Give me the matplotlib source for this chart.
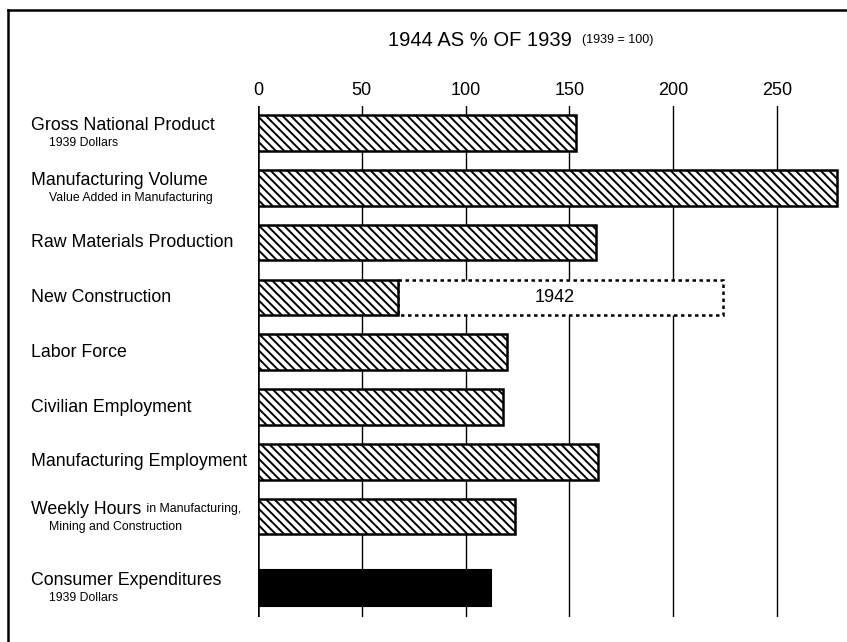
import matplotlib
matplotlib.use("Agg")
import matplotlib.pyplot as plt
from matplotlib.lines import Line2D

plt.rcParams['font.family'] = ['Liberation Sans', 'DejaVu Sans']
plt.rcParams['hatch.linewidth'] = 1.4

# ---- data (1944 as % of 1939) ----
labels = ["Gross National Product", "Manufacturing Volume", "Raw Materials Production",
          "New Construction", "Labor Force", "Civilian Employment",
          "Manufacturing Employment", "Weekly Hours", "Consumer Expenditures"]
sublabels = ["1939 Dollars", "Value Added in Manufacturing", "", "", "", "", "",
             "Mining and Construction", "1939 Dollars"]
values_1944 = [153, 279, 163, 67.5, 120, 118, 164, 124, 112]
construction_1942 = 224
ticks = [0, 50, 100, 150, 200, 250]

# row positions (consumer row set a bit lower)
rows = [0, 1, 2, 3, 4, 5, 6, 7, 8.3]

W, H = 847, 642
fig = plt.figure(figsize=(W / 100, H / 100), dpi=100)
ax = fig.add_axes([258 / W, 1 - 617 / H, (W - 258) / W, (617 - 106) / H])

px_per_unit = 2.076
ax.set_xlim(0, (W - 258) / px_per_unit)
ax.set_ylim(8.83, -0.49)

# grid lines behind bars
for t in ticks:
    ax.axvline(t, color='black', lw=1.8 if t == 0 else 1.0, zorder=0)

bh = 0.65
for i, (y, v) in enumerate(zip(rows, values_1944)):
    if i == len(values_1944) - 1:
        ax.barh(y, v, height=bh, color='black', edgecolor='black', lw=1.5, zorder=2)
    else:
        ax.barh(y, v, height=bh, facecolor='white', edgecolor='black',
                hatch='\\\\\\\\', lw=1.8, zorder=2)

# 1942 dotted extension for New Construction
ci = labels.index("New Construction")
ax.barh(rows[ci], construction_1942 - values_1944[ci], left=values_1944[ci], height=bh,
        facecolor='white', edgecolor='black', lw=1.8, linestyle=(0, (1.4, 1.4)), zorder=1.5)
ax.text((values_1944[ci] + construction_1942) / 2 - 3, rows[ci], "1942", ha='center',
        va='center', fontsize=13, zorder=3)

ax.xaxis.tick_top()
ax.set_xticks(ticks)
ax.set_xticklabels([str(t) for t in ticks], fontsize=13)
ax.tick_params(axis='x', length=0, pad=5)
ax.set_yticks([])
for s in ax.spines.values():
    s.set_visible(False)

# left-hand labels
main_fs, sub_fs = 12.8, 8.8
texts = {}
for lab, sub, y in zip(labels, sublabels, rows):
    if sub:
        t = ax.annotate(lab, xy=(31, y), xycoords=('figure pixels', 'data'),
                        xytext=(0, 5.5), textcoords='offset points',
                        va='center', ha='left', fontsize=main_fs)
        ax.annotate(sub, xy=(49, y), xycoords=('figure pixels', 'data'),
                    xytext=(0, -7.2), textcoords='offset points',
                    va='center', ha='left', fontsize=sub_fs)
    else:
        t = ax.annotate(lab, xy=(31, y), xycoords=('figure pixels', 'data'),
                        va='center', ha='left', fontsize=main_fs)
    texts[lab] = t

# small continuation after "Weekly Hours"
fig.canvas.draw()
wh = texts["Weekly Hours"]
bb = wh.get_window_extent()
ax.annotate(" in Manufacturing,", xy=(bb.x1, bb.y0), xycoords='figure pixels',
            xytext=(1, 4), textcoords='offset points',
            va='baseline', ha='left', fontsize=sub_fs)

# title
title = fig.text(388 / W, 1 - 40 / H, "1944 AS % OF 1939", fontsize=14.5,
                 ha='left', va='center')
fig.canvas.draw()
tb = title.get_window_extent()
fig.text((tb.x1 + 10) / W, 1 - 40 / H, "(1939 = 100)", fontsize=9,
         ha='left', va='center')

# frame (top and left edges)
fig.add_artist(Line2D([8 / W, 1], [1 - 10 / H, 1 - 10 / H], color='black', lw=1.8,
                      transform=fig.transFigure))
fig.add_artist(Line2D([8 / W, 8 / W], [1 - 10 / H, 0], color='black', lw=1.8,
                      transform=fig.transFigure))

fig.savefig("out.png", dpi=100)
